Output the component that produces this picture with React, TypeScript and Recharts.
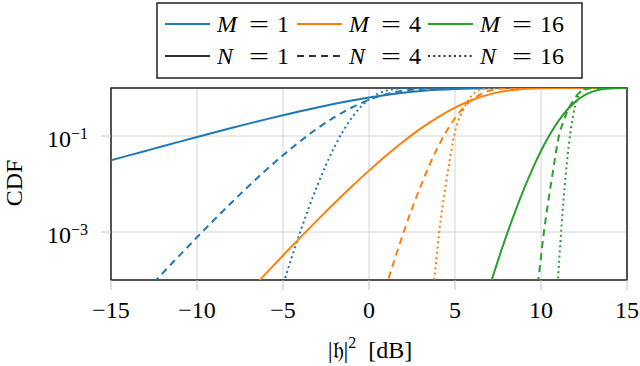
import React from 'react';
import { LineChart, Line, XAxis, YAxis, CartesianGrid, ReferenceArea } from 'recharts';

const BLUE = '#1f77b4';
const ORANGE = '#ff7f0e';
const GREEN = '#2ca02c';
const FONT = '"Liberation Serif", "DejaVu Serif", serif';

const xTicks = [-15, -10, -5, 0, 5, 10, 15];
const yTicks = [1e-3, 1e-1];

// M = 1
const dbM1N1 = [-15, -14, -13, -12, -11, -10, -9, -8, -7, -6, -5, -4, -3, -2, -1, 0, 1, 2, 3, 4, 5, 6, 7, 8, 9, 10, 11, 15];
const cdfM1N1 = [0.03113, 0.03903, 0.04888, 0.06115, 0.07636, 0.09516, 0.1183, 0.1466, 0.1809, 0.2222, 0.2711, 0.3284, 0.3942, 0.4679, 0.5481, 0.6321, 0.7161, 0.7951, 0.864, 0.9189, 0.9577, 0.9813, 0.9933, 0.9982, 0.99965, 0.99995, 1, 1];
const dbM1N4 = [-13, -12, -11, -10, -9, -8, -7, -6, -5, -4, -3, -2, -1, 0, 1, 2, 3, 4, 5, 6, 7, 15];
const cdfM1N4 = [5.74e-5, 1.383e-4, 3.296e-4, 7.76e-4, 1.797e-3, 4.08e-3, 9.0e-3, 0.0193, 0.0397, 0.0777, 0.1438, 0.2477, 0.3923, 0.5665, 0.74, 0.8765, 0.957, 0.9901, 0.9986, 0.9999, 1, 1];
const dbM1N16 = [-5.5, -5, -4.5, -4, -3.5, -3, -2.5, -2, -1.5, -1, -0.5, 0, 0.5, 1, 1.5, 2, 3, 4, 15];
const cdfM1N16 = [2.07e-5, 7.9e-5, 2.9e-4, 1.0e-3, 3.2e-3, 9.3e-3, 0.025, 0.06, 0.128, 0.24, 0.4, 0.58, 0.75, 0.88, 0.955, 0.988, 0.9995, 1, 1];

// M = 4
const dbM4N1 = [-7, -6, -5, -4, -3, -2, -1, 0, 1, 2, 3, 4, 5, 6, 7, 8, 9, 10, 11, 12, 13, 15];
const cdfM4N1 = [5.63e-5, 1.358e-4, 3.239e-4, 7.63e-4, 1.767e-3, 4.01e-3, 8.86e-3, 0.019, 0.0393, 0.077, 0.1421, 0.2448, 0.3892, 0.5627, 0.7369, 0.8744, 0.956, 0.9897, 0.9986, 0.9999, 1, 1];
const dbM4N4 = [0.52, 1.02, 1.52, 2.02, 2.52, 3.02, 3.52, 4.02, 4.52, 5.02, 5.52, 6.02, 6.52, 7.02, 7.52, 8.02, 9.02, 10.02, 15];
const cdfM4N4 = [2.07e-5, 7.9e-5, 2.9e-4, 1.0e-3, 3.2e-3, 9.3e-3, 0.025, 0.06, 0.128, 0.24, 0.4, 0.58, 0.75, 0.88, 0.955, 0.988, 0.9995, 1, 1];
const dbM4N16 = [3.5, 3.79, 4.08, 4.27, 4.47, 4.7, 4.94, 5.2, 5.45, 5.7, 5.95, 6.2, 6.7, 7.2, 7.7, 15];
const cdfM4N16 = [1.4e-5, 1e-4, 1e-3, 3.3e-3, 1e-2, 0.032, 0.1, 0.21, 0.33, 0.5, 0.68, 0.83, 0.972, 0.998, 1, 1];

// M = 16
const dbM16N1 = [6.54, 7.04, 7.54, 8.04, 8.54, 9.04, 9.54, 10.04, 10.54, 11.04, 11.54, 12.04, 12.54, 13.04, 13.54, 14.04, 15];
const cdfM16N1 = [2.07e-5, 7.9e-5, 2.82e-4, 9.45e-4, 2.93e-3, 8.4e-3, 0.022, 0.0522, 0.111, 0.211, 0.357, 0.533, 0.71, 0.851, 0.939, 0.981, 0.9993];
const dbM16N4 = [9.5, 9.84, 10.17, 10.37, 10.58, 10.8, 11.04, 11.3, 11.55, 11.8, 12.05, 12.3, 12.8, 13.3, 13.8, 15];
const cdfM16N4 = [1.5e-5, 1e-4, 1e-3, 3.2e-3, 1e-2, 0.032, 0.1, 0.2, 0.34, 0.5, 0.68, 0.83, 0.972, 0.998, 1, 1];
const dbM16N16 = [10.75, 11, 11.25, 11.5, 11.75, 12, 12.25, 12.5, 12.75, 13, 13.5, 15];
const cdfM16N16 = [3.3e-6, 1.21e-4, 2.47e-3, 0.0266, 0.1493, 0.448, 0.787, 0.9593, 0.9966, 0.9999, 1, 1];

const toPoints = (xs: number[], ys: number[]) => xs.map((x, i) => ({ x, y: ys[i] }));

const DASHED = '7 5';
const DOTTED = '2 3.2';

const series = [
  { id: 'm1n1', color: BLUE, dash: undefined, data: toPoints(dbM1N1, cdfM1N1) },
  { id: 'm1n4', color: BLUE, dash: DASHED, data: toPoints(dbM1N4, cdfM1N4) },
  { id: 'm1n16', color: BLUE, dash: DOTTED, data: toPoints(dbM1N16, cdfM1N16) },
  { id: 'm4n1', color: ORANGE, dash: undefined, data: toPoints(dbM4N1, cdfM4N1) },
  { id: 'm4n4', color: ORANGE, dash: DASHED, data: toPoints(dbM4N4, cdfM4N4) },
  { id: 'm4n16', color: ORANGE, dash: DOTTED, data: toPoints(dbM4N16, cdfM4N16) },
  { id: 'm16n1', color: GREEN, dash: undefined, data: toPoints(dbM16N1, cdfM16N1) },
  { id: 'm16n4', color: GREEN, dash: DASHED, data: toPoints(dbM16N4, cdfM16N4) },
  { id: 'm16n16', color: GREEN, dash: DOTTED, data: toPoints(dbM16N16, cdfM16N16) },
];

const XTick = (props: any) => {
  const v = props.payload.value;
  const label = v < 0 ? '\u2212' + Math.abs(v) : String(v);
  return (
    <text x={props.x} y={318} textAnchor="middle" fontSize={24} fontFamily={FONT} fill="#000">
      {label}
    </text>
  );
};

const YTick = (props: any) => {
  const exp = Math.round(Math.log10(props.payload.value));
  return (
    <text x={88} y={props.y + 11} textAnchor="end" fontSize={24} fontFamily={FONT} fill="#000">
      10
      <tspan dy={-8} fontSize={16}>{'\u2212' + Math.abs(exp)}</tspan>
    </text>
  );
};

const legendRows = [
  [
    { color: BLUE, dash: undefined, sym: 'M', n: '1' },
    { color: ORANGE, dash: undefined, sym: 'M', n: '4' },
    { color: GREEN, dash: undefined, sym: 'M', n: '16' },
  ],
  [
    { color: '#333', dash: undefined, sym: 'N', n: '1' },
    { color: '#333', dash: DASHED, sym: 'N', n: '4' },
    { color: '#333', dash: DOTTED, sym: 'N', n: '16' },
  ],
];

const legendCols = [165, 297, 428];

const Overlay = () => (
  <svg width={640} height={366} style={{ position: 'absolute', left: 0, top: 0, pointerEvents: 'none' }}>
    <rect x={157} y={3} width={425} height={75} fill="#fff" stroke="#222" strokeWidth={1.5} />
    {legendRows.map((row, r) =>
      row.map((it, c) => {
        const x0 = legendCols[c];
        const yl = r === 0 ? 24 : 56;
        const yb = r === 0 ? 32 : 64;
        return (
          <g key={`${r}-${c}`}>
            <line x1={x0} x2={x0 + 45} y1={yl} y2={yl} stroke={it.color} strokeWidth={2} strokeDasharray={it.dash} />
            <text x={x0 + 52} y={yb} fontSize={24} fontFamily={FONT} fontStyle="italic" fill="#000">
              {it.sym}
            </text>
            <text x={x0 + 84} y={yb} fontSize={24} fontFamily={FONT} fill="#000" textLength={20} lengthAdjust="spacingAndGlyphs">
              =
            </text>
            <text x={x0 + 112} y={yb} fontSize={24} fontFamily={FONT} fill="#000">
              {it.n}
            </text>
          </g>
        );
      })
    )}
    <text transform="translate(22,183) rotate(-90)" textAnchor="middle" fontSize={24} fontFamily={FONT} fill="#000">
      CDF
    </text>
    <text x={370} y={358} textAnchor="middle" fontSize={24} fontFamily={FONT} fill="#000">
      |{'\u{1D525}'}|<tspan dy={-10} fontSize={16}>2</tspan>
      <tspan dy={10}>{'\u00A0\u00A0'}[dB]</tspan>
    </text>
  </svg>
);

export default function App() {
  return (
    <div style={{ position: 'absolute', left: 0, top: 0, width: 640, height: 366, background: '#fff' }}>
      <LineChart width={640} height={366} margin={{ top: 88, right: 13, bottom: 0, left: 11 }}>
        <CartesianGrid stroke="#d4d4d4" strokeWidth={1} />
        <XAxis
          type="number"
          dataKey="x"
          domain={[-15, 15]}
          ticks={xTicks}
          allowDataOverflow
          axisLine={false}
          tickSize={10}
          tickLine={{ stroke: '#c4c4c4' }}
          tick={<XTick />}
          height={86}
        />
        <YAxis
          type="number"
          scale="log"
          domain={[1e-4, 1]}
          ticks={yTicks}
          allowDataOverflow
          axisLine={false}
          tickSize={10}
          tickLine={{ stroke: '#c4c4c4' }}
          tick={<YTick />}
          width={100}
        />
        <ReferenceArea x1={-15} x2={15} y1={1e-4} y2={1} fill="none" stroke="#222" strokeWidth={1.5} fillOpacity={0} />
        {series.map((s) => (
          <Line
            key={s.id}
            data={s.data}
            dataKey="y"
            type="monotone"
            stroke={s.color}
            strokeWidth={2}
            strokeDasharray={s.dash}
            dot={false}
            activeDot={false}
            isAnimationActive={false}
          />
        ))}
      </LineChart>
      <Overlay />
    </div>
  );
}
